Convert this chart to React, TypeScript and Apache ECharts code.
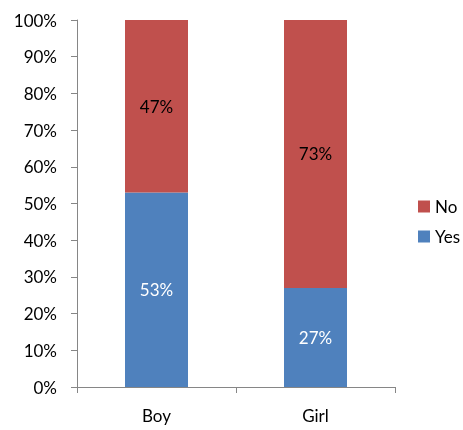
import React, { useEffect, useRef } from "react";
import * as echarts from "echarts";

const categories = ["Boy", "Girl"];
const yesValues = [53, 27];
const noValues = [47, 73];
const seriesNames = ["Yes", "No"];

export default function App() {
  const ref = useRef<HTMLDivElement>(null);
  useEffect(() => {
    if (!ref.current) return;
    const chart = echarts.init(ref.current, null, { renderer: "svg" });
    const font = "Lato, 'Open Sans', sans-serif";
    chart.setOption({
      animation: false,
      textStyle: { fontFamily: font },
      grid: { left: 77, right: 68, top: 20, bottom: 43 },
      legend: {
        orient: "vertical",
        left: 418,
        top: 198,
        padding: 0,
        icon: "rect",
        data: [seriesNames[1], seriesNames[0]],
        itemWidth: 12,
        itemHeight: 12,
        itemGap: 13,
        textStyle: { fontSize: 17, color: "#000", fontFamily: font },
      },
      xAxis: {
        type: "category",
        data: categories,
        axisLine: { lineStyle: { color: "#868686", width: 1 } },
        axisTick: { show: true, length: 6, alignWithLabel: false, lineStyle: { color: "#868686" } },
        axisLabel: { fontSize: 17, color: "#000", margin: 20, fontFamily: font },
      },
      yAxis: {
        type: "value",
        min: 0,
        max: 100,
        interval: 10,
        splitLine: { show: false },
        axisLine: { show: true, lineStyle: { color: "#868686", width: 1 } },
        axisTick: { show: true, length: 6, lineStyle: { color: "#868686" } },
        axisLabel: { fontSize: 17, color: "#000", margin: 20, formatter: "{value}%", fontFamily: font },
      },
      series: [
        {
          name: seriesNames[0],
          type: "bar",
          stack: "total",
          data: yesValues,
          barWidth: 63,
          itemStyle: { color: "#4F81BD" },
          label: { show: true, position: "inside", formatter: "{c}%", color: "#fff", fontSize: 17, fontFamily: font },
        },
        {
          name: seriesNames[1],
          type: "bar",
          stack: "total",
          data: noValues,
          barWidth: 63,
          itemStyle: { color: "#C0504D" },
          label: { show: true, position: "inside", formatter: "{c}%", color: "#000", fontSize: 17, fontFamily: font },
        },
      ],
    });
    return () => chart.dispose();
  }, []);
  return <div ref={ref} style={{ position: "fixed", left: 0, top: 0, width: 463, height: 430 }} />;
}
